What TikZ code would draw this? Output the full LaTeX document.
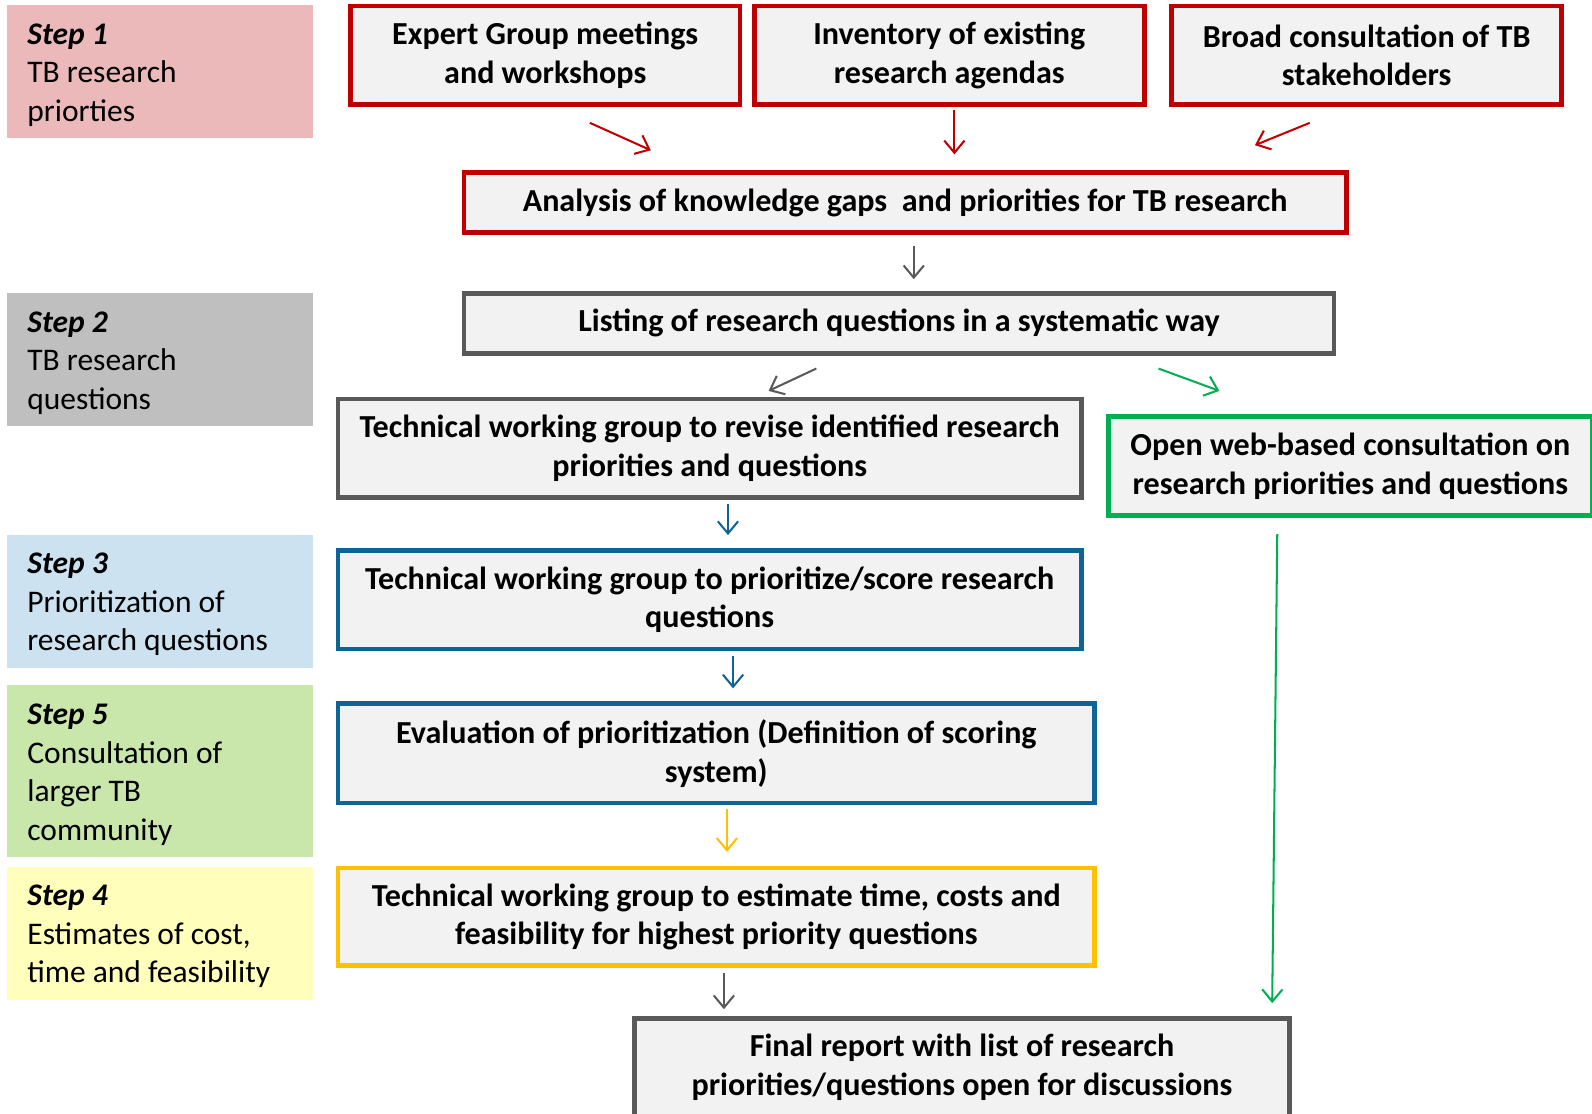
\documentclass[tikz,border=0pt]{standalone}
\usepackage{fontspec}
\setmainfont{Carlito}
\usetikzlibrary{arrows.meta}

\definecolor{boxFill}{HTML}{F2F2F2}
\definecolor{boxRed}{HTML}{C00000}
\definecolor{boxGray}{HTML}{595959}
\definecolor{boxGreen}{HTML}{00B050}
\definecolor{boxBlue}{HTML}{0F6496}
\definecolor{boxYellow}{HTML}{FFC000}
\definecolor{stepPink}{HTML}{EBB9B9}
\definecolor{stepGray}{HTML}{BFBFBF}
\definecolor{stepBlue}{HTML}{CDE2F1}
\definecolor{stepGreen}{HTML}{C9E6AB}
\definecolor{stepYellow}{HTML}{FFFFBB}

\newcommand{\stepHead}[1]{\rule{0pt}{27pt}\textbf{\textit{Step #1}}}

\tikzset{
  flowBox/.style={rectangle, draw=#1, line width=4.5pt, fill=boxFill, align=center, inner sep=0pt,
    font=\bfseries\fontsize{31.6}{38}\selectfont},
  stepLabel/.style={rectangle, fill=#1, minimum width=301pt, minimum height=131pt, text width=261pt,
    align=flush left, inner sep=0pt, font=\fontsize{31}{38}\selectfont},
  flowArrow/.style={-{Straight Barb[length=12pt,width=20pt]}, line width=2pt, draw=#1},
}

\begin{document}
\begin{tikzpicture}[x=1pt, y=-1pt]
\useasboundingbox (0,0) rectangle (1568,1097);

% step labels on the left
\node[stepLabel=stepPink](step1Label) at (157.5,70.5){\stepHead{1}\\TB research\\priorties};
\node[stepLabel=stepGray](step2Label) at (157.5,354){\stepHead{2}\\TB research\\questions};
\node[stepLabel=stepBlue](step3Label) at (157.5,592){\stepHead{3}\\Prioritization of\\research questions};
\node[stepLabel=stepGreen, minimum height=169pt](step5Label) at (157.5,759.5){\stepHead{5}\\Consultation of\\larger TB\\community};
\node[stepLabel=stepYellow](step4Label) at (157.5,919){\stepHead{4}\\Estimates of cost,\\time and feasibility};

% step 1
\node[flowBox=boxRed, minimum width=384pt, minimum height=97pt](expertBox) at (537,54.5){Expert Group meetings\\and workshops};
\node[flowBox=boxRed, minimum width=384pt, minimum height=97pt](inventoryBox) at (935,54.5){Inventory of existing\\research agendas};
\node[flowBox=boxRed, minimum width=384pt, minimum height=97pt](broadBox) at (1346,54.5){Broad consultation of TB\\stakeholders};
\node[flowBox=boxRed, minimum width=869pt, minimum height=59pt](analysisBox) at (891.5,199.5){Analysis of knowledge gaps \ and priorities for TB research};

% step 2
\node[flowBox=boxGray, minimum width=857pt, minimum height=59pt](listingBox) at (885.5,318.5){Listing of research questions in a systematic way};
\node[flowBox=boxGray, minimum width=732pt, minimum height=97pt](reviseBox) at (699,441.5){Technical working group to revise identified research\\priorities and questions};
\node[flowBox=boxGreen, minimum width=476pt, minimum height=98pt](openWebBox) at (1330,459){Open web-based consultation on\\research priorities and questions};

% step 3 to 4
\node[flowBox=boxBlue, minimum width=732pt, minimum height=97pt](prioritizeBox) at (699,590.5){Technical working group to prioritize/score research\\questions};
\node[flowBox=boxBlue, minimum width=745pt, minimum height=98pt](evaluationBox) at (705.5,742){Evaluation of prioritization (Definition of scoring\\system)};
\node[flowBox=boxYellow, minimum width=745pt, minimum height=96pt](estimateBox) at (705.5,903){Technical working group to estimate time, costs and\\feasibility for highest priority questions};
\node[flowBox=boxGray, minimum width=645pt, minimum height=96pt](finalBox) at (947.5,1051){Final report with list of research\\priorities/questions open for discussions};

% arrow ends
\coordinate (expertOut) at (581,121);
\coordinate (analysisInA) at (641,148);
\coordinate (inventoryOut) at (940,108);
\coordinate (analysisInB) at (940,152);
\coordinate (broadOut) at (1290,121);
\coordinate (analysisInC) at (1236,143);
\coordinate (analysisOut) at (900,242);
\coordinate (listingIn) at (900,275);
\coordinate (listingOutA) at (804,363);
\coordinate (reviseIn) at (757,385);
\coordinate (listingOutB) at (1141,363);
\coordinate (openWebIn) at (1201,385);
\coordinate (reviseOut) at (717,496);
\coordinate (prioritizeIn) at (717,527);
\coordinate (prioritizeOut) at (722,646);
\coordinate (evaluationIn) at (722,678);
\coordinate (evaluationOut) at (716,797);
\coordinate (estimateIn) at (716,839);
\coordinate (estimateOut) at (713,958);
\coordinate (finalInA) at (713,994);
\coordinate (openWebOut) at (1258,526);
\coordinate (finalInB) at (1253,988);

\draw[flowArrow=boxRed] (expertOut) -- (analysisInA);
\draw[flowArrow=boxRed] (inventoryOut) -- (analysisInB);
\draw[flowArrow=boxRed] (broadOut) -- (analysisInC);
\draw[flowArrow=boxGray] (analysisOut) -- (listingIn);
\draw[flowArrow=boxGray] (listingOutA) -- (reviseIn);
\draw[flowArrow=boxGreen] (listingOutB) -- (openWebIn);
\draw[flowArrow=boxBlue] (reviseOut) -- (prioritizeIn);
\draw[flowArrow=boxBlue] (prioritizeOut) -- (evaluationIn);
\draw[flowArrow=boxYellow] (evaluationOut) -- (estimateIn);
\draw[flowArrow=boxGray] (estimateOut) -- (finalInA);
\draw[flowArrow=boxGreen] (openWebOut) -- (finalInB);
\end{tikzpicture}
\end{document}
